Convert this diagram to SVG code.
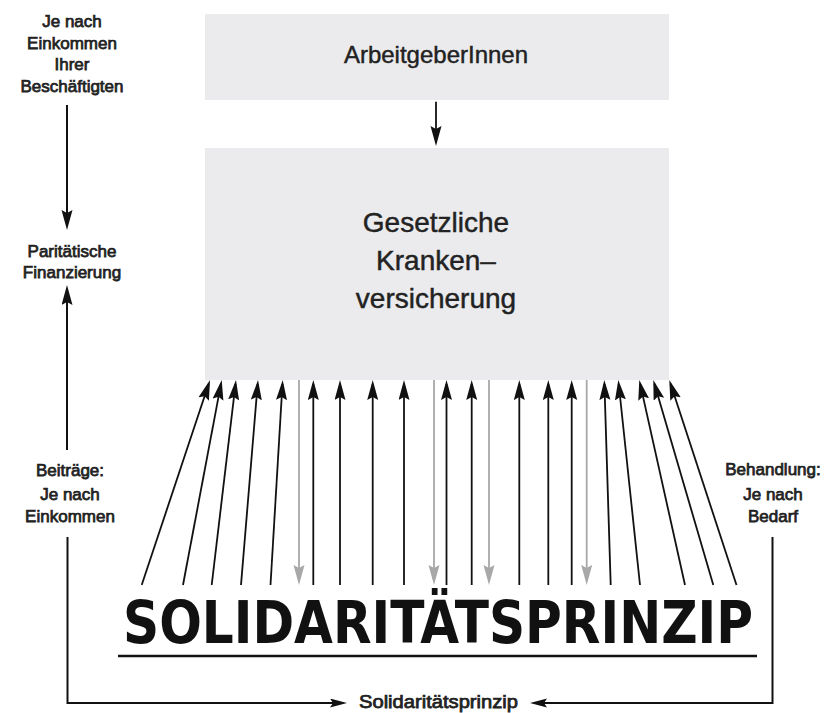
<svg xmlns="http://www.w3.org/2000/svg" width="829" height="713" viewBox="0 0 829 713">
<style>
  .box { fill: #ebebed; }
  .t { font-family: "Liberation Sans", Arial, sans-serif; fill: #222; stroke: #222; stroke-width: 0.45; text-anchor: middle; }
  .big { font-size: 28px; }
  .mid { font-size: 24px; }
  .lbl { font-size: 17px; stroke-width: 0.75; }
  .ln { fill: none; stroke: #111; stroke-width: 1.8; }
  .side { fill: none; stroke: #111; stroke-width: 2; }
  .gr { fill: none; stroke: #a8a8a8; stroke-width: 1.8; }
  .word { font-family: "DejaVu Sans Condensed", "DejaVu Sans", sans-serif; font-stretch: condensed; font-weight: bold; font-size: 58px; fill: #111; }
</style>
<defs>
  <marker id="ah" markerUnits="userSpaceOnUse" markerWidth="22" markerHeight="12" refX="16" refY="5.5" orient="auto">
    <path d="M0,0 L20,5.5 L0,11 L3,5.5 Z" fill="#111"/>
  </marker>
  <marker id="ag" markerUnits="userSpaceOnUse" markerWidth="22" markerHeight="12" refX="16" refY="5.5" orient="auto">
    <path d="M0,0 L20,5.5 L0,11 L3,5.5 Z" fill="#a8a8a8"/>
  </marker>
  <marker id="as" markerUnits="userSpaceOnUse" markerWidth="18" markerHeight="10" refX="13" refY="4.5" orient="auto">
    <path d="M0,0 L17,4.5 L0,9 L3,4.5 Z" fill="#111"/>
  </marker>
</defs>

<g id="arbeitgeber">
  <rect class="box" x="205" y="14" width="464" height="86"/>
  <text class="t mid" x="436" y="63">ArbeitgeberInnen</text>
</g>

<g id="gkv">
  <rect class="box" x="205" y="148" width="464" height="232"/>
  <text class="t big" x="436" y="232">Gesetzliche</text>
  <text class="t big" x="436" y="270">Kranken–</text>
  <text class="t big" x="436" y="308">versicherung</text>
</g>

<g id="label-einkommen-beschaeftigte">
  <text class="t lbl" x="72" y="27">Je nach</text>
  <text class="t lbl" x="72" y="49">Einkommen</text>
  <text class="t lbl" x="72" y="70">Ihrer</text>
  <text class="t lbl" x="72" y="92">Beschäftigten</text>
</g>

<g id="label-paritaetisch">
  <text class="t lbl" x="72" y="257">Paritätische</text>
  <text class="t lbl" x="72" y="278">Finanzierung</text>
</g>

<g id="label-beitraege">
  <text class="t lbl" x="70" y="476">Beiträge:</text>
  <text class="t lbl" x="70" y="500">Je nach</text>
  <text class="t lbl" x="70" y="522">Einkommen</text>
</g>

<g id="label-behandlung">
  <text class="t lbl" x="773" y="475">Behandlung:</text>
  <text class="t lbl" x="773" y="500">Je nach</text>
  <text class="t lbl" x="773" y="522">Bedarf</text>
</g>

<g id="label-solidaritaetsprinzip">
  <text class="t lbl" x="438.5" y="708" style="font-size:18px" textLength="159" lengthAdjust="spacingAndGlyphs">Solidaritätsprinzip</text>
</g>

<g id="wordmark">
  <text class="word" x="123" y="643" textLength="630" lengthAdjust="spacingAndGlyphs">SOLIDARITÄTSPRINZIP</text>
  <line x1="118" y1="656" x2="757" y2="656" stroke="#111" stroke-width="2.5"/>
</g>

<g id="connectors">
  <line class="ln" x1="436" y1="101.7" x2="436" y2="142" marker-end="url(#ah)"/>
  <line class="side" x1="67" y1="105" x2="67" y2="226" marker-end="url(#ah)"/>
  <line class="side" x1="67" y1="450" x2="67" y2="289" marker-end="url(#ah)"/>
  <polyline class="side" points="67.5,537 67.5,703 343,703" marker-end="url(#as)"/>
  <polyline class="side" points="772.5,537 772.5,703 534,703" marker-end="url(#as)"/>

  <line class="ln" x1="141.7" y1="585" x2="208.74" y2="383.8" marker-end="url(#ah)"/>
  <line class="ln" x1="183" y1="585" x2="220.96" y2="383.93" marker-end="url(#ah)"/>
  <line class="ln" x1="211.7" y1="585" x2="235.53" y2="383.97" marker-end="url(#ah)"/>
  <line class="ln" x1="241" y1="585" x2="257.67" y2="383.99" marker-end="url(#ah)"/>
  <line class="ln" x1="270.5" y1="585" x2="282.46" y2="383.99" marker-end="url(#ah)"/>
  <line class="ln" x1="313.3" y1="585" x2="313.3" y2="384" marker-end="url(#ah)"/>
  <line class="ln" x1="340" y1="585" x2="340" y2="384" marker-end="url(#ah)"/>
  <line class="ln" x1="372.7" y1="585" x2="372.7" y2="384" marker-end="url(#ah)"/>
  <line class="ln" x1="404" y1="585" x2="404" y2="384" marker-end="url(#ah)"/>
  <line class="ln" x1="446.5" y1="585" x2="446.5" y2="384" marker-end="url(#ah)"/>
  <line class="ln" x1="471.7" y1="585" x2="471.7" y2="384" marker-end="url(#ah)"/>
  <line class="ln" x1="519.3" y1="585" x2="519.3" y2="384" marker-end="url(#ah)"/>
  <line class="ln" x1="548.3" y1="585" x2="548.3" y2="384" marker-end="url(#ah)"/>
  <line class="ln" x1="571.7" y1="585" x2="571.7" y2="384" marker-end="url(#ah)"/>
  <line class="ln" x1="610.7" y1="585" x2="604.42" y2="384" marker-end="url(#ah)"/>
  <line class="ln" x1="640" y1="585" x2="618.72" y2="383.98" marker-end="url(#ah)"/>
  <line class="ln" x1="685" y1="585" x2="640.17" y2="383.9" marker-end="url(#ah)"/>
  <line class="ln" x1="713.3" y1="585" x2="654.42" y2="383.84" marker-end="url(#ah)"/>
  <line class="ln" x1="736.5" y1="585" x2="670.55" y2="383.8" marker-end="url(#ah)"/>

  <line class="gr" x1="299" y1="380" x2="299" y2="581" marker-end="url(#ag)"/>
  <line class="gr" x1="434" y1="380" x2="434" y2="581" marker-end="url(#ag)"/>
  <line class="gr" x1="489" y1="380" x2="489" y2="581" marker-end="url(#ag)"/>
  <line class="gr" x1="586.7" y1="380" x2="586.7" y2="581" marker-end="url(#ag)"/>
</g>
</svg>
